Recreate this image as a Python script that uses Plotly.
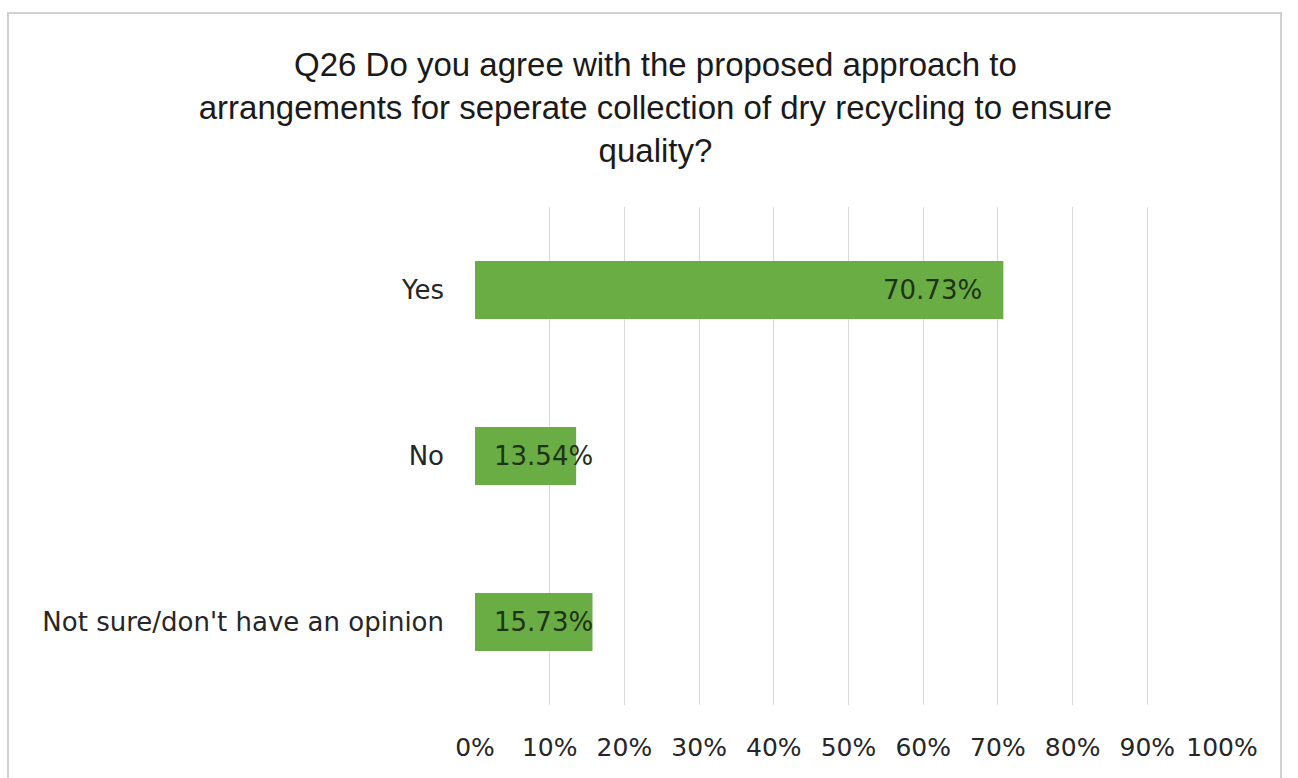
import plotly.graph_objects as go

# Survey responses (share of respondents)
categories = ["Yes", "No", "Not sure/don't have an opinion"]
shares = [70.73, 13.54, 15.73]
tick_values = [0, 10, 20, 30, 40, 50, 60, 70, 80, 90, 100]
tick_labels = [f"{v}%" for v in tick_values]

title_text = ("Q26 Do you agree with the proposed approach to<br>"
              "arrangements for seperate collection of dry recycling to ensure<br>"
              "quality?")

W, H = 1298, 778
L, R, T, B = 475, 76, 207, 73

BAR_GREEN = "#6aad45"
LABEL_FONT = "DejaVu Sans, Verdana, sans-serif"

fig = go.Figure()
fig.add_trace(go.Bar(
    x=shares,
    y=categories,
    orientation="h",
    marker=dict(color=BAR_GREEN, line=dict(width=0)),
    hoverinfo="skip",
))

# Value labels drawn from the same data as the bars
annotations = []
for cat, val in zip(categories, shares):
    if val > 30:
        annotations.append(dict(x=val, y=cat, xref="x", yref="y", text=f"{val:.2f}%",
                                xanchor="right", xshift=-19, showarrow=False,
                                font=dict(family=LABEL_FONT, size=26, color="#1e3314")))
    else:
        annotations.append(dict(x=0, y=cat, xref="x", yref="y", text=f"{val:.2f}%",
                                xanchor="left", xshift=17, showarrow=False,
                                font=dict(family=LABEL_FONT, size=26, color="#1e3314")))

pw = W - L - R
ph = H - T - B

fig.update_layout(
    width=W, height=H,
    margin=dict(l=L, r=R, t=T, b=B, autoexpand=False),
    paper_bgcolor="white",
    plot_bgcolor="white",
    bargap=0.65,
    showlegend=False,
    title=dict(text=title_text, x=0.505, xanchor="center", y=1 - 76 / H, yanchor="middle",
               font=dict(family="Liberation Sans, Arial, sans-serif", size=33, color="#1a1a1a")),
    xaxis=dict(range=[0, 100], tickvals=tick_values, ticktext=tick_labels,
               showgrid=True, gridcolor="#d9d9d9", gridwidth=1,
               zeroline=False, showline=False, ticks="",
               ticklabelstandoff=25,
               tickfont=dict(family=LABEL_FONT, size=25, color="#262626"),
               fixedrange=True),
    yaxis=dict(categoryorder="array", categoryarray=categories[::-1],
               showgrid=False, zeroline=False, showline=False, ticks="",
               ticklabelstandoff=30,
               tickfont=dict(family=LABEL_FONT, size=26, color="#262626"),
               fixedrange=True),
    annotations=annotations,
    shapes=[dict(type="rect", xref="paper", yref="paper",
                 x0=(8 - L) / pw, x1=(1281 - L) / pw,
                 y0=-(H + 10 - T - ph) / ph, y1=(H - 13 - B) / ph,
                 line=dict(color="#d0d0d0", width=2), fillcolor="rgba(0,0,0,0)", layer="below")],
)

fig.write_html("out.html")
